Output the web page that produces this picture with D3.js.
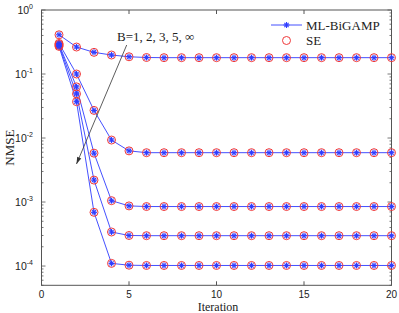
<!DOCTYPE html>
<html><head><meta charset="utf-8">
<script src="https://cdn.jsdelivr.net/npm/d3@7"></script>
<style>body{margin:0;background:#fff}</style>
</head><body>
<svg id="c" width="399" height="313"></svg>
<script>
const iterations = d3.range(1, 21);
const seriesNames = ["B=1", "B=2", "B=3", "B=5", "B=inf"];
const bigamp_B1 = [0.41,0.264,0.218,0.198,0.186,0.181,0.180,0.180,0.180,0.180,0.180,0.180,0.180,0.180,0.180,0.180,0.180,0.180,0.180,0.180];
const bigamp_B2 = [0.30,0.100,0.027,0.0093,0.0063,0.0059,0.0059,0.0059,0.0059,0.0059,0.0059,0.0059,0.0059,0.0059,0.0059,0.0059,0.0059,0.0059,0.0059,0.0059];
const bigamp_B3 = [0.29,0.063,0.0058,0.00105,0.00087,0.00085,0.00085,0.00085,0.00085,0.00085,0.00085,0.00085,0.00085,0.00085,0.00085,0.00085,0.00085,0.00085,0.00085,0.00085];
const bigamp_B5 = [0.28,0.049,0.0022,0.00034,0.00030,0.000298,0.000298,0.000298,0.000298,0.000298,0.000298,0.000298,0.000298,0.000298,0.000298,0.000298,0.000298,0.000298,0.000298,0.000298];
const bigamp_Binf = [0.27,0.037,0.00069,0.00011,0.000103,0.000102,0.000102,0.000102,0.000102,0.000102,0.000102,0.000102,0.000102,0.000102,0.000102,0.000102,0.000102,0.000102,0.000102,0.000102];
const se_B1 = bigamp_B1.slice();
const se_B2 = bigamp_B2.slice();
const se_B3 = bigamp_B3.slice();
const se_B5 = bigamp_B5.slice();
const se_Binf = bigamp_Binf.slice();
const xTicks = [0, 5, 10, 15, 20];
const yTickExps = [0, -1, -2, -3, -4];
const annotation = "B=1, 2, 3, 5, \u221e";
const legendLabels = ["ML-BiGAMP", "SE"];

const bigamp = [bigamp_B1, bigamp_B2, bigamp_B3, bigamp_B5, bigamp_Binf];
const se = [se_B1, se_B2, se_B3, se_B5, se_Binf];

const L = 41.5, R = 391.5, T = 10, B = 285.3;
const svg = d3.select("#c");
const x = d3.scaleLinear().domain([0, 20]).range([L, R]);
const y = d3.scaleLog().domain([5e-5, 1]).range([B, T]);
const axisCol = "#555";
const sans = "Liberation Sans, Arial, sans-serif";
const serif = "Liberation Serif, Times New Roman, serif";
const serifSize = 13;

// box
svg.append("rect").attr("x", L).attr("y", T).attr("width", R - L).attr("height", B - T)
  .attr("fill", "none").attr("stroke", axisCol).attr("stroke-width", 1);

// x ticks (inward, bottom & top)
const xt = svg.append("g");
xTicks.forEach(v => {
  xt.append("line").attr("x1", x(v)).attr("x2", x(v)).attr("y1", B).attr("y2", B - 4).attr("stroke", axisCol);
  xt.append("line").attr("x1", x(v)).attr("x2", x(v)).attr("y1", T).attr("y2", T + 4).attr("stroke", axisCol);
  xt.append("text").attr("x", x(v)).attr("y", 297.5).attr("text-anchor", "middle")
    .attr("font-family", sans).attr("font-size", 10).attr("fill", "#222").text(v);
});

// y ticks: majors and minors, inward, left & right
const yt = svg.append("g");
const minorVals = [];
for (let e = -5; e < 0; e++) for (let m = 1; m < 10; m++) {
  const v = m * Math.pow(10, e);
  if (v >= 5e-5 && v <= 1) minorVals.push({v, major: m === 1});
}
minorVals.push({v: 1, major: true});
minorVals.forEach(d => {
  const len = d.major ? 4 : 2;
  yt.append("line").attr("x1", L).attr("x2", L + len).attr("y1", y(d.v)).attr("y2", y(d.v)).attr("stroke", axisCol).attr("stroke-width", 0.8);
  yt.append("line").attr("x1", R).attr("x2", R - len).attr("y1", y(d.v)).attr("y2", y(d.v)).attr("stroke", axisCol).attr("stroke-width", 0.8);
});
yTickExps.forEach(e => {
  const t = yt.append("text").attr("x", 33).attr("y", y(Math.pow(10, e)) + 4).attr("text-anchor", "end")
    .attr("font-family", sans).attr("font-size", 10.5).attr("fill", "#222");
  t.append("tspan").text("10");
  t.append("tspan").attr("dy", -5).attr("font-size", 7).text(e);
});

// axis labels
svg.append("text").attr("x", 218).attr("y", 311).attr("text-anchor", "middle")
  .attr("font-family", serif).attr("font-size", 12).attr("fill", "#222").text("Iteration");
svg.append("text").attr("transform", `translate(14,${(T + B) / 2}) rotate(-90)`).attr("text-anchor", "middle")
  .attr("font-family", serif).attr("font-size", serifSize).attr("fill", "#222").text("NMSE");

const blue = "#2f3cff";
const red = "#f0393a";
const line = d3.line().x((d, i) => x(iterations[i])).y(d => y(d));

function star(g, cx, cy) {
  const r = 3;
  [[-r, 0, r, 0], [0, -r, 0, r], [-r*0.7, -r*0.7, r*0.7, r*0.7], [-r*0.7, r*0.7, r*0.7, -r*0.7]].forEach(s => {
    g.append("line").attr("x1", cx + s[0]).attr("y1", cy + s[1]).attr("x2", cx + s[2]).attr("y2", cy + s[3])
      .attr("stroke", blue).attr("stroke-width", 1.1);
  });
}

const plot = svg.append("g");
bigamp.forEach(s => {
  plot.append("path").attr("d", line(s)).attr("fill", "none").attr("stroke", blue).attr("stroke-width", 0.9);
});
se.forEach(s => {
  s.forEach((v, i) => {
    plot.append("circle").attr("cx", x(iterations[i])).attr("cy", y(v)).attr("r", 4)
      .attr("fill", "none").attr("stroke", red).attr("stroke-width", 1);
  });
});
bigamp.forEach(s => {
  s.forEach((v, i) => star(plot, x(iterations[i]), y(v)));
});

// annotation
svg.append("text").attr("x", 117).attr("y", 41).attr("font-family", serif).attr("font-size", serifSize).attr("fill", "#222").text(annotation);
const ax1 = 126.7, ay1 = 45, ax2 = 76.5, ay2 = 164;
svg.append("line").attr("x1", ax1).attr("y1", ay1).attr("x2", ax2).attr("y2", ay2).attr("stroke", "#333").attr("stroke-width", 0.8);
const ang = Math.atan2(ay2 - ay1, ax2 - ax1);
const hl = 7, hw = 2.2;
const bx = ax2 - hl * Math.cos(ang), by = ay2 - hl * Math.sin(ang);
svg.append("path").attr("d", `M${ax2},${ay2}L${bx + hw * Math.sin(ang)},${by - hw * Math.cos(ang)}L${bx - hw * Math.sin(ang)},${by + hw * Math.cos(ang)}Z`).attr("fill", "#333");

// legend
const lg = svg.append("g");
lg.append("line").attr("x1", 271).attr("x2", 302).attr("y1", 25).attr("y2", 25).attr("stroke", blue).attr("stroke-width", 0.9);
star(lg, 286.5, 25);
lg.append("circle").attr("cx", 286.5).attr("cy", 40.5).attr("r", 4).attr("fill", "none").attr("stroke", red).attr("stroke-width", 1);
lg.append("text").attr("x", 306).attr("y", 29.5).attr("font-family", serif).attr("font-size", serifSize).attr("fill", "#222").text(legendLabels[0]);
lg.append("text").attr("x", 306).attr("y", 45).attr("font-family", serif).attr("font-size", serifSize).attr("fill", "#222").text(legendLabels[1]);
</script>
</body></html>
